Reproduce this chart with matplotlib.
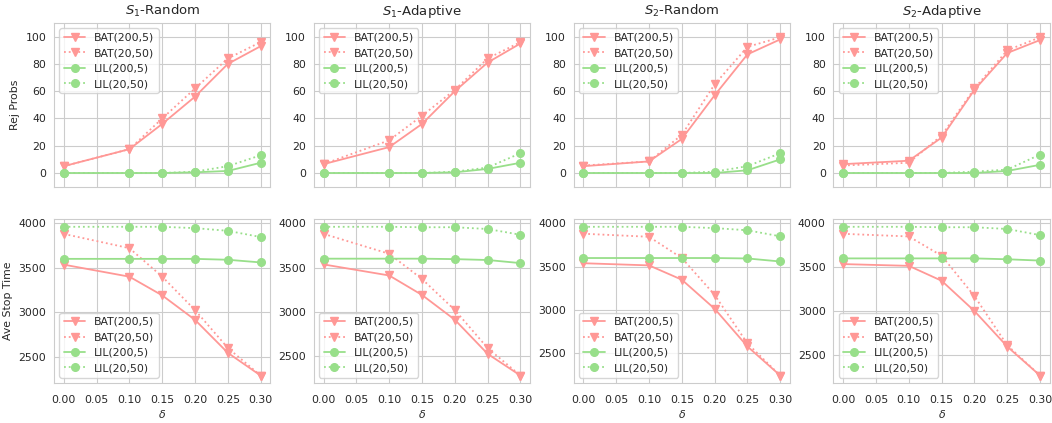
import matplotlib
matplotlib.use('Agg')
import matplotlib.pyplot as plt
import seaborn as sns
from matplotlib.ticker import MultipleLocator, FormatStrFormatter

sns.set_style('whitegrid')

deltas = [0.00, 0.10, 0.15, 0.20, 0.25, 0.30]
titles = ['$S_1$-Random', '$S_1$-Adaptive', '$S_2$-Random', '$S_2$-Adaptive']
labels = ['BAT(200,5)', 'BAT(20,50)', 'LIL(200,5)', 'LIL(20,50)']

# rejection probabilities (%), one list per setting: BAT(200,5), BAT(20,50), LIL(200,5), LIL(20,50)
rej_s1_random = [
    [5, 17.5, 36, 56, 80, 93],
    [5, 17.5, 40, 62, 84, 96],
    [0, 0, 0, 0.5, 1.5, 7.5],
    [0, 0, 0, 1, 5, 13],
]
rej_s1_adaptive = [
    [6.5, 19, 36, 60, 81, 95],
    [6.5, 24, 42, 61, 84, 96],
    [0, 0, 0, 0.5, 3, 7.5],
    [0, 0, 0, 1, 4, 14.5],
]
rej_s2_random = [
    [5, 8.5, 25, 57, 87, 98],
    [5.5, 8.5, 28, 65, 92.5, 99.5],
    [0, 0, 0, 0, 2, 10],
    [0, 0, 0, 1, 5, 14.5],
]
rej_s2_adaptive = [
    [6.5, 9, 26, 61, 88, 97.5],
    [5.5, 7.5, 27.5, 62, 90, 99.5],
    [0, 0, 0, 0, 1.5, 6],
    [0, 0, 0, 1, 2.5, 13.5],
]

# average stopping times
stop_s1_random = [
    [3535, 3400, 3190, 2915, 2545, 2290],
    [3880, 3720, 3400, 3025, 2600, 2290],
    [3600, 3600, 3600, 3600, 3590, 3560],
    [3960, 3960, 3960, 3945, 3915, 3845],
]
stop_s1_adaptive = [
    [3535, 3410, 3190, 2910, 2525, 2280],
    [3880, 3655, 3370, 3020, 2590, 2280],
    [3600, 3600, 3600, 3595, 3585, 3550],
    [3960, 3960, 3955, 3955, 3935, 3870],
]
stop_s2_random = [
    [3540, 3515, 3350, 3015, 2580, 2245],
    [3880, 3845, 3600, 3175, 2615, 2245],
    [3600, 3600, 3600, 3600, 3595, 3560],
    [3960, 3960, 3960, 3945, 3920, 3850],
]
stop_s2_adaptive = [
    [3535, 3515, 3345, 3000, 2595, 2265],
    [3880, 3850, 3630, 3170, 2610, 2265],
    [3600, 3600, 3600, 3600, 3590, 3575],
    [3960, 3960, 3955, 3955, 3935, 3865],
]

rej_all = [rej_s1_random, rej_s1_adaptive, rej_s2_random, rej_s2_adaptive]
stop_all = [stop_s1_random, stop_s1_adaptive, stop_s2_random, stop_s2_adaptive]

colors = ['#ff9896', '#ff9896', '#98df8a', '#98df8a']
markers = ['v', 'v', 'o', 'o']
styles = ['-', ':', '-', ':']

fs = 7.8

fig, axes = plt.subplots(2, 4, figsize=(10.52, 4.23), dpi=100, sharex=True)

for j in range(4):
    for row, data, loc in [(0, rej_all[j], 'upper left'), (1, stop_all[j], 'lower left')]:
        ax = axes[row, j]
        for k in range(4):
            ax.plot(deltas, data[k], color=colors[k], marker=markers[k],
                    linestyle=styles[k], linewidth=1.3, markersize=5.5, label=labels[k])
        ax.legend(loc=loc, fontsize=fs)
        ax.tick_params(axis='y', labelsize=fs, pad=2)
        ax.tick_params(axis='x', labelsize=fs, pad=5.5)
    axes[0, j].set_title(titles[j], fontsize=9.5)
    axes[0, j].set_ylim(-10, 110)
    axes[0, j].yaxis.set_major_locator(MultipleLocator(20))
    axes[1, j].set_xlabel(r'$\delta$', fontsize=fs, labelpad=2)
    axes[1, j].xaxis.set_major_locator(MultipleLocator(0.05))
    axes[1, j].xaxis.set_major_formatter(FormatStrFormatter('%.2f'))

axes[0, 0].set_ylabel('Rej Probs', fontsize=fs)
axes[1, 0].set_ylabel('Ave Stop Time', fontsize=fs)

plt.subplots_adjust(left=0.0513, right=0.998, top=0.9456, bottom=0.0946,
                    wspace=0.2, hspace=0.2)
plt.savefig('out.png')
